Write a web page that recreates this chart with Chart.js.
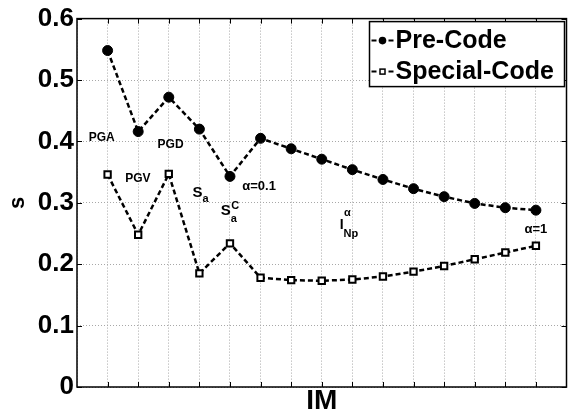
<!DOCTYPE html>
<html>
<head>
<meta charset="utf-8">
<script src="https://cdn.jsdelivr.net/npm/chart.js@4/dist/chart.umd.min.js"></script>
<style>
  html, body { margin: 0; padding: 0; background: #fff; }
</style>
</head>
<body>
<canvas id="chart" width="573" height="415"></canvas>
<script>
// IM index along the x axis (no tick labels in the figure)
const imIndex = [1, 2, 3, 4, 5, 6, 7, 8, 9, 10, 11, 12, 13, 14, 15]
const preCode = [0.548, 0.416, 0.472, 0.420, 0.343, 0.405, 0.388, 0.371, 0.354, 0.338, 0.323, 0.310, 0.299, 0.292, 0.288]
const specialCode = [0.346, 0.248, 0.347, 0.185, 0.234, 0.178, 0.174, 0.173, 0.175, 0.180, 0.188, 0.197, 0.208, 0.219, 0.230]
const seriesNames = ['Pre-Code', 'Special-Code']
const yTickValues = [0, 0.1, 0.2, 0.3, 0.4, 0.5, 0.6]

// text notes placed in data coordinates
const notes = [
  { text: 'PGA', x: 0.81, y: 0.406, size: 12 },
  { text: 'PGV', x: 1.99, y: 0.340, size: 12 },
  { text: 'PGD', x: 3.06, y: 0.394, size: 12 },
  { text: 'S', sub: 'a', x: 3.94, y: 0.317, size: 15, subDy: 7 },
  { text: 'S', sub: 'a', sup: 'C', x: 4.86, y: 0.287, size: 15, subDy: 8, supDy: -5 },
  { text: '\u03b1=0.1', x: 5.95, y: 0.326, size: 13 },
  { text: 'I', sub: 'Np', sup: '\u03b1', x: 8.65, y: 0.263, size: 14, subDy: 8, supDy: -13 },
  { text: '\u03b1=1', x: 15.0, y: 0.256, size: 13 }
]

const FONT = '"Liberation Sans", Arial, sans-serif'

const toPoints = (values) => values.map((v, i) => ({ x: imIndex[i], y: v }))

const notesPlugin = {
  id: 'notes',
  afterDatasetsDraw(chart) {
    const ctx = chart.ctx
    const xs = chart.scales.x
    const ys = chart.scales.y
    ctx.save()
    ctx.fillStyle = '#000'
    notes.forEach(n => {
      const px = xs.getPixelForValue(n.x)
      const py = ys.getPixelForValue(n.y)
      ctx.font = `bold ${n.size}px ${FONT}`
      ctx.textAlign = 'center'
      ctx.textBaseline = 'middle'
      ctx.fillText(n.text, px, py)
      const right = px + ctx.measureText(n.text).width / 2
      ctx.textAlign = 'left'
      if (n.sub) {
        ctx.font = `bold 11px ${FONT}`
        ctx.fillText(n.sub, right, py + n.subDy)
      }
      if (n.sup) {
        ctx.font = `bold 11px ${FONT}`
        ctx.fillText(n.sup, right + 0.5, py + n.supDy)
      }
    })
    ctx.restore()
  }
}

// box frame, inward ticks and legend like the original figure
const framePlugin = {
  id: 'frame',
  afterDraw(chart) {
    const ctx = chart.ctx
    const { left, right, top, bottom } = chart.chartArea
    const xs = chart.scales.x
    const ys = chart.scales.y
    ctx.save()
    ctx.strokeStyle = '#000'
    ctx.lineWidth = 1
    ctx.beginPath()
    imIndex.forEach(v => {
      const px = Math.round(xs.getPixelForValue(v)) + 0.5
      ctx.moveTo(px, bottom); ctx.lineTo(px, bottom - 5)
      ctx.moveTo(px, top); ctx.lineTo(px, top + 5)
    })
    yTickValues.forEach(v => {
      const py = Math.round(ys.getPixelForValue(v)) + 0.5
      ctx.moveTo(left, py); ctx.lineTo(left + 5, py)
      ctx.moveTo(right, py); ctx.lineTo(right - 5, py)
    })
    ctx.stroke()

    ctx.lineWidth = 1.5
    ctx.strokeRect(left, top, right - left, bottom - top)

    // legend
    const bx = right - 197
    const by = top + 3
    ctx.fillStyle = '#fff'
    ctx.fillRect(bx, by, 195, 65)
    ctx.strokeRect(bx, by, 195, 65)
    const rows = [by + 19, by + 50]
    chart.data.datasets.forEach((ds, i) => {
      const y = rows[i]
      ctx.lineWidth = 2
      ctx.beginPath()
      ctx.moveTo(bx + 2, y); ctx.lineTo(bx + 7, y)
      ctx.moveTo(bx + 19, y); ctx.lineTo(bx + 24, y)
      ctx.stroke()
      const mx = bx + 13
      if (ds.pointStyle === 'circle') {
        ctx.fillStyle = '#000'
        ctx.beginPath()
        ctx.arc(mx, y, 3.8, 0, Math.PI * 2)
        ctx.fill()
      } else {
        ctx.fillStyle = '#fff'
        ctx.lineWidth = 1.5
        ctx.fillRect(mx - 2.5, y - 2.5, 5, 5)
        ctx.strokeRect(mx - 2.5, y - 2.5, 5, 5)
      }
      ctx.fillStyle = '#000'
      ctx.font = `bold 25px ${FONT}`
      ctx.textAlign = 'left'
      ctx.textBaseline = 'middle'
      ctx.fillText(ds.label, bx + 26, y + 1)
    })
    ctx.restore()
  }
}

const config = {
  type: 'line',
  data: {
    datasets: [
      {
        label: seriesNames[0],
        data: toPoints(preCode),
        borderColor: '#000',
        borderWidth: 2.5,
        borderDash: [5, 3],
        pointStyle: 'circle',
        pointRadius: 5,
        pointBackgroundColor: '#000',
        pointBorderColor: '#000',
        pointBorderWidth: 1,
        tension: 0
      },
      {
        label: seriesNames[1],
        data: toPoints(specialCode),
        borderColor: '#000',
        borderWidth: 2.5,
        borderDash: [5, 3],
        pointStyle: 'rect',
        pointRadius: 4.5,
        pointBackgroundColor: '#fff',
        pointBorderColor: '#000',
        pointBorderWidth: 2,
        tension: 0
      }
    ]
  },
  options: {
    responsive: false,
    animation: false,
    events: [],
    layout: { padding: { top: 17, right: 4, bottom: 0, left: 0 } },
    plugins: {
      legend: { display: false },
      tooltip: { enabled: false }
    },
    scales: {
      x: {
        type: 'linear',
        min: 0,
        max: 16,
        ticks: { stepSize: 1, display: false },
        grid: { color: '#a8a8a8', lineWidth: 1, drawTicks: false },
        border: { display: false, dash: [1, 2] },
        title: {
          display: true,
          text: 'IM',
          color: '#000',
          font: { family: FONT, size: 28, weight: 'bold', lineHeight: 1 },
          padding: { top: 0, bottom: 0 }
        },
        afterFit: (scale) => { scale.height = 28 }
      },
      y: {
        min: 0,
        max: 0.6,
        ticks: {
          stepSize: 0.1,
          padding: 3,
          color: '#000',
          font: { family: FONT, size: 26, weight: 'bold' },
          callback: (v) => v === 0 ? '0' : v.toFixed(1)
        },
        grid: { color: '#a8a8a8', lineWidth: 1, drawTicks: false },
        border: { display: false, dash: [1, 2] },
        title: {
          display: true,
          text: 's',
          color: '#000',
          font: { family: FONT, size: 22, weight: 'bold', lineHeight: 1 },
          padding: { top: 7, bottom: 0 }
        },
        afterFit: (scale) => { scale.width = 77 }
      }
    }
  },
  plugins: [notesPlugin, framePlugin]
}

new Chart(document.getElementById('chart'), config)
</script>
</body>
</html>
